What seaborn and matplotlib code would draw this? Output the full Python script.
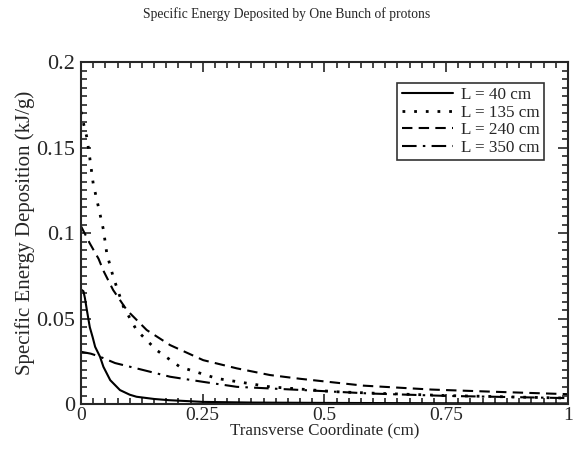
import numpy as np
import pandas as pd
import matplotlib
matplotlib.use("Agg")
import matplotlib.pyplot as plt
import seaborn as sns
from matplotlib.ticker import MultipleLocator, FuncFormatter

# values
x_40 = [0.0, 0.005, 0.008, 0.012, 0.018, 0.024, 0.029, 0.039, 0.046, 0.06, 0.08, 0.1, 0.114, 0.15, 0.18, 0.25, 0.35, 0.5, 0.75, 1.0]
y_40 = [0.067, 0.066, 0.062, 0.055, 0.045, 0.039, 0.0335, 0.0277, 0.0218, 0.014, 0.0082, 0.0055, 0.0043, 0.003, 0.0023, 0.0013, 0.0009, 0.0007, 0.0005, 0.0004]

x_135 = [0.0, 0.006, 0.012, 0.018, 0.025, 0.036, 0.046, 0.053, 0.066, 0.087, 0.114, 0.155, 0.203, 0.279, 0.388, 0.525, 0.6, 0.75, 1.0]
y_135 = [0.171, 0.163, 0.156, 0.144, 0.129, 0.115, 0.102, 0.088, 0.0745, 0.057, 0.0433, 0.0316, 0.0218, 0.015, 0.0101, 0.0072, 0.0064, 0.005, 0.0035]

x_240 = [0.0, 0.018, 0.036, 0.046, 0.066, 0.094, 0.135, 0.183, 0.251, 0.32, 0.388, 0.45, 0.58, 0.72, 0.85, 1.0]
y_240 = [0.104, 0.094, 0.085, 0.078, 0.0667, 0.055, 0.0433, 0.0345, 0.0257, 0.0209, 0.017, 0.0148, 0.0108, 0.0085, 0.0072, 0.0058]

x_350 = [0.0, 0.02, 0.039, 0.07, 0.114, 0.183, 0.251, 0.32, 0.456, 0.593, 0.75, 1.0]
y_350 = [0.0306, 0.0295, 0.0277, 0.024, 0.0209, 0.016, 0.013, 0.0101, 0.0082, 0.0062, 0.0048, 0.0035]

labels = ["L = 40 cm", "L = 135 cm", "L = 240 cm", "L = 350 cm"]
xs = [x_40, x_135, x_240, x_350]
ys = [y_40, y_135, y_240, y_350]

sns.set_style("ticks")
plt.rcParams['font.family'] = ['Liberation Serif', 'DejaVu Serif']

fig = plt.figure(figsize=(5.73, 4.5), dpi=100)
ax = fig.add_axes([0.1414, 0.102, 0.8496, 0.76])

styles = ["-", (0, (1, 3.2)), (0, (5, 3)), (0, (7, 3, 1.2, 3))]
widths = [1.5, 2.0, 1.5, 1.5]
for xv, yv, lab, ls, lw in zip(xs, ys, labels, styles, widths):
    df = pd.DataFrame({"x": xv, "y": yv})
    sns.lineplot(data=df, x="x", y="y", ax=ax, color="black", linestyle=ls,
                 linewidth=lw, label=lab)

ax.set_xlim(0, 1)
ax.set_ylim(0, 0.2)
ax.xaxis.set_major_locator(MultipleLocator(0.25))
ax.xaxis.set_minor_locator(MultipleLocator(0.025))
ax.yaxis.set_major_locator(MultipleLocator(0.05))
ax.yaxis.set_minor_locator(MultipleLocator(0.005))
fmt = FuncFormatter(lambda v, p: "%g" % round(v, 4))
ax.xaxis.set_major_formatter(fmt)
ax.yaxis.set_major_formatter(fmt)
ax.tick_params(which="both", direction="in", top=True, right=True, width=1.2, pad=2)
ax.tick_params(axis="x", labelsize=14)
ax.tick_params(axis="y", labelsize=16, pad=4)
ax.tick_params(which="major", length=7)
ax.tick_params(which="minor", length=4)
for s in ax.spines.values():
    s.set_linewidth(1.5)

ax.set_xlabel("Transverse Coordinate (cm)", fontsize=12.2, labelpad=-1)
ax.set_ylabel("Specific Energy Deposition (kJ/g)", fontsize=15, labelpad=1)
fig.suptitle("Specific Energy Deposited by One Bunch of protons", fontsize=9.8, y=0.985)

leg = ax.legend(loc="upper right", bbox_to_anchor=(0.952, 0.94), fontsize=12.3,
                frameon=True, fancybox=False, edgecolor="black", handlelength=3.0,
                borderpad=0.25, labelspacing=0.1, handletextpad=0.5, borderaxespad=0)
leg.get_frame().set_linewidth(1.2)

plt.savefig("out.png", dpi=100)
